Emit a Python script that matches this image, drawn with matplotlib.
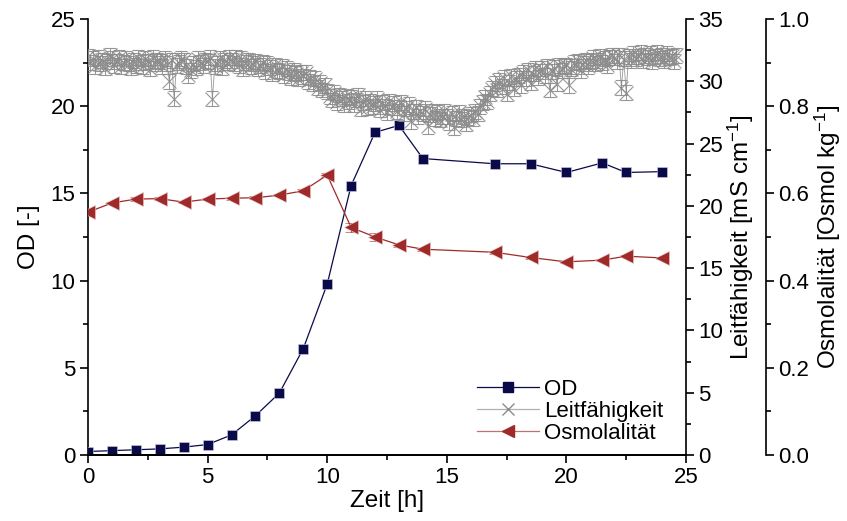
import matplotlib
matplotlib.use("Agg")
import matplotlib.pyplot as plt
import numpy as np
from matplotlib.ticker import MultipleLocator
from matplotlib.lines import Line2D

plt.rcParams['font.family'] = ['Liberation Sans', 'DejaVu Sans']
plt.rcParams['mathtext.default'] = 'regular'

# OD
od_t = [0, 1, 2, 3, 4, 5, 6, 7, 8, 9, 10, 11, 12, 13, 14, 17, 18.5, 20, 21.5, 22.5, 24]
od = [0.2, 0.25, 0.3, 0.35, 0.45, 0.6, 1.15, 2.25, 3.55, 6.1, 9.8, 15.45, 18.5, 18.9,
      17.0, 16.7, 16.7, 16.2, 16.75, 16.2, 16.25]

# Osmolalitaet
osm_t = [0, 1, 2, 3, 4, 5, 6, 7, 8, 9, 10, 11, 12, 13, 14, 17, 18.5, 20, 21.5, 22.5, 24]
osm = [0.557, 0.578, 0.587, 0.588, 0.580, 0.587, 0.589, 0.590, 0.596, 0.606, 0.642,
       0.522, 0.500, 0.482, 0.472, 0.465, 0.453, 0.443, 0.447, 0.456, 0.452]
osm_err = [0.004, 0.003, 0.004, 0.003, 0.003, 0.003, 0.003, 0.003, 0.003, 0.003, 0.004,
           0.010, 0.010, 0.004, 0.003, 0.003, 0.003, 0.003, 0.003, 0.003, 0.003]

# Leitfaehigkeit (every 0.1 h, 0 ... 24.6 h)
leit_t = np.linspace(0, 24.6, 247)
leit = [32.0, 31.5, 31.8, 31.2, 31.9, 31.4, 31.7, 31.1, 31.6, 32.1,
        31.8, 31.3, 31.6, 31.9, 31.2, 31.5, 31.8, 31.4, 31.1, 31.7,
        31.3, 31.9, 31.5, 31.2, 31.8, 31.6, 31.0, 31.9, 31.4, 31.7,
        31.6, 31.2, 31.8, 31.4, 30.0, 31.7, 28.6, 31.3, 31.5, 31.8,
        31.7, 31.2, 30.5, 30.9, 31.4, 31.1, 31.8, 31.5, 31.3, 31.7,
        31.6, 31.9, 28.6, 31.2, 31.4, 31.8, 31.1, 31.7, 31.5, 31.9,
        31.7, 31.4, 31.9, 31.3, 31.8, 31.0, 31.5, 31.7, 31.2, 31.4,
        31.6, 31.0, 31.3, 31.5, 30.8, 31.4, 31.1, 30.6, 31.3, 30.9,
        30.8, 31.2, 30.5, 31.0, 30.7, 30.3, 30.9, 30.6, 30.2, 30.7,
        30.4, 30.7, 30.0, 30.3, 29.8, 30.2, 29.5, 29.9, 29.3, 29.7,
        29.2, 28.8, 28.5, 29.1, 28.3, 28.9, 28.6, 28.1, 28.8, 28.4,
        28.7, 28.1, 28.5, 28.9, 27.8, 28.3, 28.6, 27.9, 28.4, 28.0,
        28.2, 28.6, 27.7, 28.3, 28.0, 27.5, 28.4, 27.9, 28.2, 27.6,
        27.9, 28.3, 27.4, 27.8, 28.1, 26.8, 27.6, 27.9, 27.2, 27.6,
        27.4, 27.8, 26.4, 27.3, 27.6, 27.0, 27.5, 26.9, 27.2, 27.6,
        27.2, 26.7, 27.4, 26.3, 27.0, 27.5, 26.9, 27.2, 26.6, 27.1,
        27.3, 27.0, 27.6, 27.4, 28.0, 28.3, 28.7, 28.4, 29.0, 29.4,
        29.8, 29.3, 30.1, 29.6, 30.3, 29.0, 29.9, 30.4, 29.4, 30.2,
        30.5, 29.7, 30.7, 30.2, 30.9, 29.9, 30.6, 31.0, 30.3, 30.8,
        31.0, 30.5, 31.2, 29.3, 30.8, 31.1, 29.8, 31.3, 30.9, 31.2,
        31.3, 29.7, 31.0, 31.5, 31.2, 31.6, 30.9, 31.4, 31.7, 31.2,
        31.6, 31.9, 31.4, 31.7, 32.0, 31.5, 31.8, 31.3, 31.9, 32.1,
        31.9, 31.6, 32.1, 29.5, 31.8, 29.1, 32.0, 31.7, 32.2, 31.8,
        32.0, 32.3, 31.7, 32.1, 31.9, 32.2, 31.6, 32.0, 32.3, 31.8,
        32.1, 31.7, 32.2, 31.9, 32.0, 31.6, 32.1]
leit_err = 0.6

c_od = '#0a0a4a'
c_leit = '#8c8c8c'
c_osm = '#a02a2a'

fig = plt.figure(figsize=(8.47, 5.21), dpi=100)
ax = fig.add_axes([0.1039, 0.1267, 0.706, 0.8368])
ax2 = ax.twinx()
ax3 = ax.twinx()
ax3.spines['right'].set_position(('axes', 1.134))

ax.plot(od_t, od, '-s', color=c_od, lw=0.9, ms=7, mec='#d0d0e0', mew=0.4, zorder=3)
ax2.errorbar(leit_t, leit, yerr=leit_err, color=c_leit, ecolor=c_leit, marker='x',
             ms=10, mew=0.8, lw=0.6, elinewidth=0.7, capsize=4, capthick=0.8, alpha=0.9)
ax3.errorbar(osm_t, osm, yerr=osm_err, color=c_osm, ecolor=c_osm, marker='<',
             ms=10, mec='#e8c8c8', mew=0.4, lw=0.9, elinewidth=0.9, capsize=4)

ax.set_xlim(0, 25)
ax.set_ylim(0, 25)
ax2.set_ylim(0, 35)
ax3.set_ylim(0, 1.0)

ax.xaxis.set_major_locator(MultipleLocator(5))
ax.xaxis.set_minor_locator(MultipleLocator(2.5))
ax.yaxis.set_major_locator(MultipleLocator(5))
ax.yaxis.set_minor_locator(MultipleLocator(2.5))
ax2.yaxis.set_major_locator(MultipleLocator(5))
ax2.yaxis.set_minor_locator(MultipleLocator(2.5))
ax3.yaxis.set_major_locator(MultipleLocator(0.2))
ax3.yaxis.set_minor_locator(MultipleLocator(0.1))
ax3.yaxis.set_major_formatter(plt.FuncFormatter(lambda v, p: f'{v:.1f}'))

for a in (ax, ax2, ax3):
    a.spines['top'].set_visible(False)
    for s in a.spines.values():
        s.set_linewidth(1.2)
    a.tick_params(which='major', direction='out', length=6, width=1.2, labelsize=16,
                  pad=3)
    a.tick_params(which='minor', direction='out', length=3.5, width=1.2)
ax.spines['right'].set_visible(False)
ax3.spines['left'].set_visible(False)
ax2.spines['left'].set_visible(False)

ax.set_xlabel('Zeit [h]', fontsize=17.5, labelpad=1)
ax.set_ylabel('OD [-]', fontsize=17.5, labelpad=8)
ax2.set_ylabel('Leitfähigkeit [mS cm$^{-1}$]', fontsize=17.5, labelpad=2)
ax3.set_ylabel('Osmolalität [Osmol kg$^{-1}$]', fontsize=17.5, labelpad=2)

handles = [
    Line2D([], [], color=c_od, lw=0.9, marker='s', ms=7),
    Line2D([], [], color='#b0b0b0', lw=0.9, marker='x', ms=8, mec=c_leit),
    Line2D([], [], color='#c07070', lw=0.9, marker='<', ms=9, mfc=c_osm, mec=c_osm),
]
ax3.legend(handles, ['OD', 'Leitfähigkeit', 'Osmolalität'], loc='lower right',
           bbox_to_anchor=(0.98, 0.0), frameon=False, fontsize=16, handlelength=2.8,
           handletextpad=0.2, labelspacing=0.05, borderaxespad=0.1)

fig.savefig('out.png', dpi=100)
